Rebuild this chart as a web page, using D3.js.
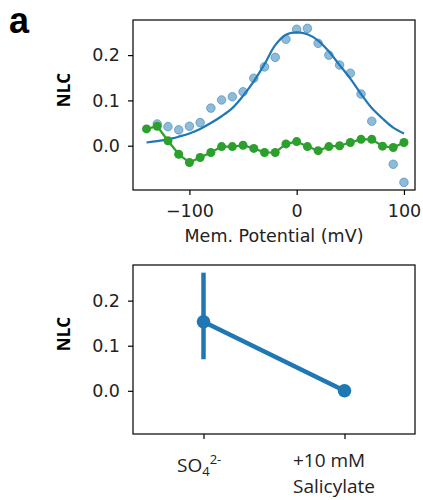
<!DOCTYPE html>
<html>
<head>
<meta charset="utf-8">
<script src="https://cdn.jsdelivr.net/npm/d3@7"></script>
<style>
  body { margin: 0; background: #fff; }
  svg { display: block; }
</style>
</head>
<body>
<div id="chart"></div>
<script>
// ---- data ----
// top panel: NLC vs membrane potential
var vScatter = [-130, -120, -110, -100, -90, -80, -70, -60, -50, -40, -30, -20, -10, 0, 10, 20, 30, 40, 50, 60, 70, 90, 100];
var nlcScatter = [0.048, 0.042, 0.035, 0.043, 0.051, 0.083, 0.101, 0.108, 0.119, 0.149, 0.174, 0.195, 0.235, 0.257, 0.259, 0.226, 0.200, 0.178, 0.160, 0.114, 0.054, -0.041, -0.081];

var vFit = [-140, -130, -120, -110, -100, -90, -80, -70, -60, -50, -40, -30, -20, -10, 0, 10, 20, 30, 40, 50, 60, 70, 80, 90, 100];
var nlcFit = [0.007, 0.010, 0.014, 0.020, 0.027, 0.037, 0.050, 0.065, 0.083, 0.110, 0.142, 0.180, 0.222, 0.245, 0.250, 0.246, 0.232, 0.208, 0.178, 0.148, 0.114, 0.083, 0.060, 0.040, 0.027];

var vSalicylate = [-140, -130, -120, -110, -100, -90, -80, -70, -60, -50, -40, -30, -20, -10, 0, 10, 20, 30, 40, 50, 60, 70, 80, 90, 100];
var nlcSalicylate = [0.037, 0.043, 0.011, -0.019, -0.037, -0.026, -0.015, -0.002, -0.002, 0.001, -0.006, -0.015, -0.015, 0.004, 0.009, -0.002, -0.011, -0.002, 0.000, 0.007, 0.014, 0.014, -0.001, -0.004, 0.007];

var xTicksTop = [-100, 0, 100];
var yTicks = [0.0, 0.1, 0.2];

// bottom panel: mean NLC per condition with error bar
var conditions = ["SO4", "Salicylate"];
var nlcMean = [0.153, 0.0];
var nlcLow = [0.070, 0.0];
var nlcHigh = [0.262, 0.0];

// ---- svg ----
var svgWidth = 423;
var svgHeight = 500;

var svg = d3.select("#chart").append("svg")
    .attr("width", svgWidth)
    .attr("height", svgHeight);

var tickFont = "DejaVu Sans, sans-serif";
var labelFont = "'Open Sans', sans-serif";

var blue = "#1f77b4";
var green = "#2ca02c";

// panel boxes
var top1 = { left: 133, right: 415, top: 20, bottom: 190 };
var bot1 = { left: 133, right: 415, top: 265, bottom: 434 };

// panel letter
svg.append("text")
    .attr("x", 9)
    .attr("y", 33)
    .attr("font-family", "Liberation Sans, Arial, sans-serif")
    .attr("font-weight", "bold")
    .attr("font-size", 36)
    .text("a");

// ================= top panel =================
var xTop = d3.scaleLinear()
    .domain([-152.6, 110.3])
    .range([top1.left, top1.right]);

var yTop = d3.scaleLinear()
    .domain([-0.0978, 0.2775])
    .range([top1.bottom, top1.top]);

var topG = svg.append("g");

// scatter (control), drawn translucent
topG.selectAll(".ctrl")
    .data(vScatter)
    .enter()
    .append("circle")
    .attr("class", "ctrl")
    .attr("cx", d => xTop(d))
    .attr("cy", (d, i) => yTop(nlcScatter[i]))
    .attr("r", 4.3)
    .attr("fill", blue)
    .attr("fill-opacity", 0.5)
    .attr("stroke", blue)
    .attr("stroke-opacity", 0.5)
    .attr("stroke-width", 1);

// fitted curve
var fitLine = d3.line()
    .x((d, i) => xTop(d))
    .y((d, i) => yTop(nlcFit[i]))
    .curve(d3.curveCatmullRom.alpha(0.5));

topG.append("path")
    .datum(vFit)
    .attr("d", fitLine)
    .attr("fill", "none")
    .attr("stroke", blue)
    .attr("stroke-width", 2.2);

// salicylate trace
var salLine = d3.line()
    .x(d => xTop(d))
    .y((d, i) => yTop(nlcSalicylate[i]));

topG.append("path")
    .datum(vSalicylate)
    .attr("d", salLine)
    .attr("fill", "none")
    .attr("stroke", green)
    .attr("stroke-width", 2.2);

topG.selectAll(".sal")
    .data(vSalicylate)
    .enter()
    .append("circle")
    .attr("class", "sal")
    .attr("cx", d => xTop(d))
    .attr("cy", (d, i) => yTop(nlcSalicylate[i]))
    .attr("r", 4.5)
    .attr("fill", green);

// frame
svg.append("rect")
    .attr("x", top1.left)
    .attr("y", top1.top)
    .attr("width", top1.right - top1.left)
    .attr("height", top1.bottom - top1.top)
    .attr("fill", "none")
    .attr("stroke", "#000")
    .attr("stroke-width", 1.2);

// axes
var xAxisTop = d3.axisBottom(xTop)
    .tickValues(xTicksTop)
    .tickFormat(d3.format("d"))
    .tickSize(5)
    .tickPadding(10);

var gx = svg.append("g")
    .attr("transform", `translate(0, ${top1.bottom})`)
    .call(xAxisTop);

var yAxisTop = d3.axisLeft(yTop)
    .tickValues(yTicks)
    .tickFormat(d3.format(".1f"))
    .tickSize(5)
    .tickPadding(8);

var gy = svg.append("g")
    .attr("transform", `translate(${top1.left}, 0)`)
    .call(yAxisTop);

svg.append("text")
    .attr("x", (top1.left + top1.right) / 2)
    .attr("y", 242)
    .attr("text-anchor", "middle")
    .attr("font-family", tickFont)
    .attr("font-size", 17.5)
    .attr("fill", "#222")
    .text("Mem. Potential (mV)");

svg.append("text")
    .attr("transform", "translate(70, 90) rotate(-90)")
    .attr("text-anchor", "middle")
    .attr("font-family", labelFont)
    .attr("font-weight", 700)
    .attr("font-size", 17)
    .text("NLC");

// ================= bottom panel =================
var xBot = d3.scalePoint()
    .domain(conditions)
    .range([bot1.left, bot1.right])
    .padding(0.5);

var yBot = d3.scaleLinear()
    .domain([-0.0958, 0.279])
    .range([bot1.bottom, bot1.top]);

var botG = svg.append("g");

// error bars
botG.selectAll(".err")
    .data(conditions)
    .enter()
    .append("line")
    .attr("class", "err")
    .attr("x1", d => xBot(d))
    .attr("x2", d => xBot(d))
    .attr("y1", (d, i) => yBot(nlcLow[i]))
    .attr("y2", (d, i) => yBot(nlcHigh[i]))
    .attr("stroke", blue)
    .attr("stroke-width", 4.5);

var meanLine = d3.line()
    .x(d => xBot(d))
    .y((d, i) => yBot(nlcMean[i]));

botG.append("path")
    .datum(conditions)
    .attr("d", meanLine)
    .attr("fill", "none")
    .attr("stroke", blue)
    .attr("stroke-width", 4.5);

botG.selectAll(".mean")
    .data(conditions)
    .enter()
    .append("circle")
    .attr("class", "mean")
    .attr("cx", d => xBot(d))
    .attr("cy", (d, i) => yBot(nlcMean[i]))
    .attr("r", 6.8)
    .attr("fill", blue);

svg.append("rect")
    .attr("x", bot1.left)
    .attr("y", bot1.top)
    .attr("width", bot1.right - bot1.left)
    .attr("height", bot1.bottom - bot1.top)
    .attr("fill", "none")
    .attr("stroke", "#000")
    .attr("stroke-width", 1.2);

var xAxisBot = d3.axisBottom(xBot)
    .tickFormat("")
    .tickSize(5);

var gxb = svg.append("g")
    .attr("transform", `translate(0, ${bot1.bottom})`)
    .call(xAxisBot);

// custom category labels (subscript / superscript, two lines)
gxb.selectAll(".tick").each(function(d) {
    var t = d3.select(this).select("text")
        .attr("font-family", labelFont)
        .attr("font-size", 19)
        .attr("fill", "#222")
        .attr("text-anchor", "start")
        .attr("dy", null);
    if (d === "SO4") {
        t.attr("x", -27).attr("y", 37.7);
        t.append("tspan").text("SO");
        t.append("tspan").attr("dy", 4).attr("font-size", 13).text("4");
        t.append("tspan").attr("dy", -12).attr("font-size", 13).text("2-");
    } else {
        t.attr("x", -52).attr("y", 33);
        t.append("tspan").attr("x", -52).attr("y", 33).text("+10 mM");
        t.append("tspan").attr("x", -52).attr("y", 59).text("Salicylate");
    }
});

var yAxisBot = d3.axisLeft(yBot)
    .tickValues(yTicks)
    .tickFormat(d3.format(".1f"))
    .tickSize(5)
    .tickPadding(8);

var gyb = svg.append("g")
    .attr("transform", `translate(${bot1.left}, 0)`)
    .call(yAxisBot);

svg.append("text")
    .attr("transform", "translate(70, 334) rotate(-90)")
    .attr("text-anchor", "middle")
    .attr("font-family", labelFont)
    .attr("font-weight", 700)
    .attr("font-size", 17)
    .text("NLC");

// shared axis styling
[gx, gy, gxb, gyb].forEach(function(g) {
    g.select(".domain").remove();
    g.selectAll(".tick line").attr("stroke", "#000").attr("stroke-width", 1.2);
});
[gx, gy, gyb].forEach(function(g) {
    g.selectAll(".tick text")
        .attr("font-family", tickFont)
        .attr("font-size", 17.5)
        .attr("fill", "#222");
});
</script>
</body>
</html>
